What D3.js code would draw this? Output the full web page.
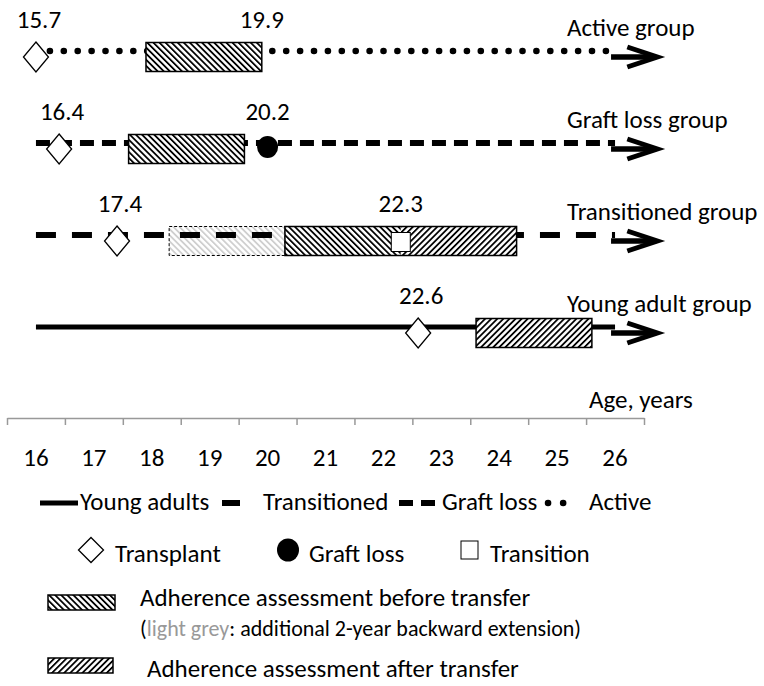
<!DOCTYPE html>
<html><head><meta charset="utf-8">
<script src="https://cdn.jsdelivr.net/npm/d3@7"></script>
<style>
html,body{margin:0;padding:0;background:#fff;}
svg{display:block;font-family:Carlito,Calibri,Lato,sans-serif;}
</style></head>
<body>
<svg id="chart" width="764" height="686"></svg>
<script>
// ---- data ----
const groups = ["Active group", "Graft loss group", "Transitioned group", "Young adult group"];
const lineStyles = ["dotted", "dashShort", "dashLong", "solid"];
const lineStart = [16.0, 16.0, 16.0, 16.0];
const lineEnd = [26.0, 26.0, 26.0, 26.0];
const arrowTip = 26.73;
const transplantPos = [16.0, 16.4, 17.4, 22.6];
const transplantLabel = ["15.7", "16.4", "17.4", "22.6"];
const eventPos = [19.9, 20.0, 22.3, null];
const eventLabel = ["19.9", "20.2", "22.3", null];
const eventType = ["none", "graftloss", "transition", "none"];
const beforeStart = [17.9, 17.6, 20.3, null];
const beforeEnd = [19.9, 19.6, 22.3, null];
const extStart = [null, null, 18.3, null];
const extEnd = [null, null, 20.3, null];
const afterStart = [null, null, 22.3, 23.6];
const afterEnd = [null, null, 24.3, 25.6];
const tickLabels = ["16", "17", "18", "19", "20", "21", "22", "23", "24", "25", "26"];
const axisTitle = "Age, years";
const lineLegend = ["Young adults", "Transitioned", "Graft loss", "Active"];
const markerLegend = ["Transplant", "Graft loss", "Transition"];
const boxLegend1 = "Adherence assessment before transfer";
const boxLegend1b = ["(", "light grey", ": additional 2-year backward extension)"];
const boxLegend2 = "Adherence assessment after transfer";

// ---- setup ----
const svg = d3.select("#chart");
const FONT = 25;
const x = d3.scaleLinear().domain([15.5, 26.5]).range([7, 644]);
const y = d3.scalePoint().domain(groups).range([57, 333]);

const dash = {
  dotted: {w: 6.5, da: "0.1 13.8", cap: "round"},
  dashShort: {w: 6, da: "14 8", cap: "butt"},
  dashLong: {w: 6, da: "20 16", cap: "butt"},
  solid: {w: 5, da: null, cap: "butt"}
};

const defs = svg.append("defs");
function hatch(id, angle, color) {
  const p = defs.append("pattern").attr("id", id)
    .attr("patternUnits", "userSpaceOnUse").attr("width", 4.3).attr("height", 4.3)
    .attr("patternTransform", `rotate(${angle})`);
  p.append("rect").attr("width", 4.3).attr("height", 4.3).attr("fill", "#fff");
  p.append("rect").attr("x", 0).attr("width", 1.8).attr("height", 4.3).attr("fill", color);
}
hatch("hBack", -45, "#000");
hatch("hFwd", 45, "#000");
hatch("hGrey", -45, "#cfcfcf");

const BOX_H = 29;
const rows = groups.map((g, i) => ({g, i, cy: y(g)}));

// grey extension boxes (under the line)
rows.filter(r => extStart[r.i] != null).forEach(r => {
  svg.append("rect")
    .attr("x", x(extStart[r.i])).attr("y", r.cy - BOX_H / 2)
    .attr("width", x(extEnd[r.i]) - x(extStart[r.i])).attr("height", BOX_H)
    .attr("fill", "url(#hGrey)").attr("stroke", "#000").attr("stroke-width", 1)
    .attr("stroke-dasharray", "3 2");
});

// lines
rows.forEach(r => {
  const s = dash[lineStyles[r.i]];
  const ln = svg.append("line")
    .attr("x1", x(lineStart[r.i])).attr("x2", x(lineEnd[r.i]))
    .attr("y1", r.cy - 6).attr("y2", r.cy - 6)
    .attr("stroke", "#000").attr("stroke-width", s.w).attr("stroke-linecap", s.cap);
  if (s.da) ln.attr("stroke-dasharray", s.da);
  // arrow
  const x0 = x(lineEnd[r.i]) - 4, xt = x(arrowTip);
  svg.append("line").attr("x1", x0).attr("x2", xt - 3).attr("y1", r.cy).attr("y2", r.cy)
    .attr("stroke", "#000").attr("stroke-width", 5.5);
  svg.append("path")
    .attr("d", `M${xt - 30},${r.cy - 10}L${xt},${r.cy}L${xt - 30},${r.cy + 10}`)
    .attr("fill", "none").attr("stroke", "#000").attr("stroke-width", 5)
    .attr("stroke-linejoin", "miter");
});

// boxes
function box(x0, x1, cy, fill) {
  svg.append("rect").attr("x", x(x0)).attr("y", cy - BOX_H / 2)
    .attr("width", x(x1) - x(x0)).attr("height", BOX_H)
    .attr("fill", fill).attr("stroke", "none");
}
rows.forEach(r => {
  const i = r.i;
  if (beforeStart[i] != null) box(beforeStart[i], beforeEnd[i], r.cy, "url(#hBack)");
  if (afterStart[i] != null) box(afterStart[i], afterEnd[i], r.cy, "url(#hFwd)");
  const a = d3.min([beforeStart[i], afterStart[i]].filter(v => v != null));
  const b = d3.max([beforeEnd[i], afterEnd[i]].filter(v => v != null));
  svg.append("rect").attr("x", x(a)).attr("y", r.cy - BOX_H / 2)
    .attr("width", x(b) - x(a)).attr("height", BOX_H)
    .attr("fill", "none").attr("stroke", "#000").attr("stroke-width", 1.5);
});

// markers
const diamond = (cx, cy, hw, hh) => `M${cx},${cy - hh}L${cx + hw},${cy}L${cx},${cy + hh}L${cx - hw},${cy}Z`;
rows.forEach(r => {
  const i = r.i;
  svg.append("path").attr("d", diamond(x(transplantPos[i]), r.cy, 12.5, 15))
    .attr("fill", "#fff").attr("stroke", "#000").attr("stroke-width", 1.3);
  svg.append("text").attr("x", x(transplantPos[i]) + 3).attr("y", r.cy - 29)
    .attr("text-anchor", "middle").attr("font-size", FONT).text(transplantLabel[i]);
  if (eventType[i] === "graftloss") {
    svg.append("ellipse").attr("cx", x(eventPos[i])).attr("cy", r.cy - 2)
      .attr("rx", 10.5).attr("ry", 11).attr("fill", "#000");
  } else if (eventType[i] === "transition") {
    svg.append("rect").attr("x", x(eventPos[i]) - 9.5).attr("y", r.cy + 1 - 9.5)
      .attr("width", 19).attr("height", 19)
      .attr("fill", "#fff").attr("stroke", "#000").attr("stroke-width", 1);
  }
  if (eventLabel[i] != null) {
    svg.append("text").attr("x", x(eventPos[i])).attr("y", r.cy - 29)
      .attr("text-anchor", "middle").attr("font-size", FONT).text(eventLabel[i]);
  }
  svg.append("text").attr("x", 567).attr("y", r.cy - 21)
    .attr("font-size", FONT).text(r.g);
});

// axis
const axisY = 418;
const tickVals = d3.range(15.5, 27, 1);
const ax = d3.axisBottom(x).tickValues(tickVals).tickSize(7).tickSizeOuter(0).tickFormat("");
const axG = svg.append("g").attr("transform", `translate(0,${axisY})`).call(ax);
axG.select(".domain").attr("stroke", "#999").attr("stroke-width", 1.5);
axG.selectAll(".tick line").attr("stroke", "#999").attr("stroke-width", 1.5);
tickLabels.forEach(t => {
  svg.append("text").attr("x", x(+t)).attr("y", 466).attr("text-anchor", "middle")
    .attr("font-size", FONT).text(t);
});
svg.append("text").attr("x", 589).attr("y", 408).attr("font-size", FONT).text(axisTitle);

// legend row 1: line styles
const lg1y = 503, lg1base = 510;
const lgItems = [
  {style: "solid", x0: 40, x1: 78, tx: 80},
  {style: "dashLong", x0: 222, x1: 240, tx: 263},
  {style: "dashShort", x0: 399, x1: 435, tx: 442},
  {style: "dotted", x0: 548, x1: 578, tx: 589}
];
lgItems.forEach((d, i) => {
  const s = dash[d.style];
  const ln = svg.append("line").attr("x1", d.x0).attr("x2", d.x1).attr("y1", lg1y).attr("y2", lg1y)
    .attr("stroke", "#000").attr("stroke-width", s.w).attr("stroke-linecap", s.cap);
  if (d.style === "dotted") ln.attr("stroke-dasharray", "0.1 15");
  else if (s.da) ln.attr("stroke-dasharray", s.da);
  svg.append("text").attr("x", d.tx).attr("y", lg1base).attr("font-size", FONT).text(lineLegend[i]);
});

// legend row 2: markers
const lg2y = 550, lg2base = 562;
svg.append("path").attr("d", diamond(91, lg2y, 12.5, 12.5))
  .attr("fill", "#fff").attr("stroke", "#000").attr("stroke-width", 1.3);
svg.append("text").attr("x", 115).attr("y", lg2base).attr("font-size", FONT).text(markerLegend[0]);
svg.append("ellipse").attr("cx", 288).attr("cy", lg2y).attr("rx", 11).attr("ry", 11.5).attr("fill", "#000");
svg.append("text").attr("x", 309).attr("y", lg2base).attr("font-size", FONT).text(markerLegend[1]);
svg.append("rect").attr("x", 461).attr("y", lg2y - 9).attr("width", 17).attr("height", 18)
  .attr("fill", "#fff").attr("stroke", "#000").attr("stroke-width", 1);
svg.append("text").attr("x", 490).attr("y", lg2base).attr("font-size", FONT).text(markerLegend[2]);

// legend rows 3-4: boxes
svg.append("rect").attr("x", 48).attr("y", 595).attr("width", 67).attr("height", 15)
  .attr("fill", "url(#hBack)").attr("stroke", "#000").attr("stroke-width", 1.5);
svg.append("text").attr("x", 140).attr("y", 606).attr("font-size", FONT).text(boxLegend1);
const t2 = svg.append("text").attr("x", 140).attr("y", 636).attr("font-size", 22);
t2.append("tspan").text(boxLegend1b[0]);
t2.append("tspan").attr("fill", "#999").text(boxLegend1b[1]);
t2.append("tspan").text(boxLegend1b[2]);
svg.append("rect").attr("x", 48).attr("y", 658).attr("width", 65).attr("height", 15)
  .attr("fill", "url(#hFwd)").attr("stroke", "#000").attr("stroke-width", 1.5);
svg.append("text").attr("x", 147).attr("y", 677).attr("font-size", FONT).text(boxLegend2);
</script>
</body></html>
